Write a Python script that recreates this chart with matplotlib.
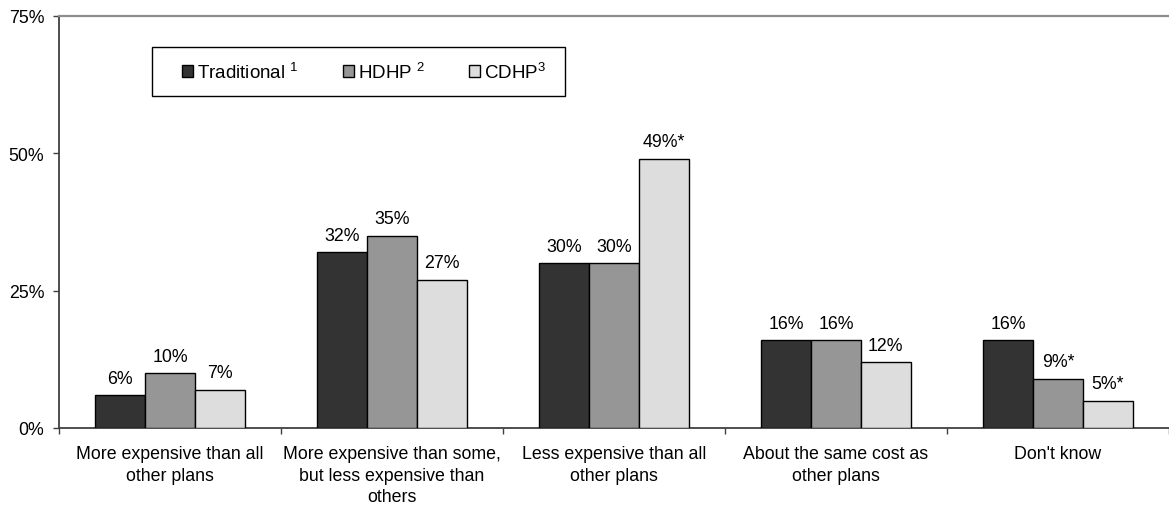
import numpy as np
import matplotlib
matplotlib.use("Agg")
import matplotlib.pyplot as plt
from matplotlib.patches import Rectangle
from matplotlib.ticker import FixedLocator

plt.rcParams["font.family"] = ["Liberation Sans", "DejaVu Sans"]
plt.rcParams["mathtext.fontset"] = "custom"
plt.rcParams["mathtext.rm"] = "Liberation Sans"
plt.rcParams["mathtext.it"] = "Liberation Sans:italic"
plt.rcParams["mathtext.bf"] = "Liberation Sans:bold"

categories = [
    "More expensive than all\nother plans",
    "More expensive than some,\nbut less expensive than\nothers",
    "Less expensive than all\nother plans",
    "About the same cost as\nother plans",
    "Don't know",
]
series_names = ["Traditional $^{1}$", "HDHP $^{2}$", "CDHP$^{3}$"]
traditional = [6, 32, 30, 16, 16]
hdhp = [10, 35, 30, 16, 9]
cdhp = [7, 27, 49, 12, 5]
traditional_sig = [False, False, False, False, False]
hdhp_sig = [False, False, False, False, True]
cdhp_sig = [False, False, True, False, True]
y_ticks = [0, 25, 50, 75]
y_tick_labels = ["0%", "25%", "50%", "75%"]

series = [traditional, hdhp, cdhp]
significance = [traditional_sig, hdhp_sig, cdhp_sig]
colors = ["#333333", "#969696", "#dddddd"]
fs = 12.8

W, H = 1169, 510
fig = plt.figure(figsize=(W / 100, H / 100), dpi=100)
ax_left, ax_bottom_px, ax_top_px = 59, 429, 17
ax = fig.add_axes([ax_left / W, 1 - ax_bottom_px / H, 1 - ax_left / W,
                   (ax_bottom_px - ax_top_px) / H])
ax_w, ax_h = W - ax_left, ax_bottom_px - ax_top_px


def px_to_axes(px, py):
    return (px - ax_left) / ax_w, (ax_bottom_px - py) / ax_h


x = np.arange(len(categories))
width = 0.224
offsets = [-width, 0, width]

handles = []
for vals, sig, off, col, name in zip(series, significance, offsets, colors, series_names):
    bars = ax.bar(x + off, vals, width, color=col, edgecolor="black", linewidth=1.0,
                  label=name, zorder=3)
    handles.append(bars)
    for xi, v, s in zip(x, vals, sig):
        ax.annotate(f"{v}%" + ("*" if s else ""), (xi + off, v),
                    xytext=(0, 6), textcoords="offset points",
                    ha="center", va="bottom", fontsize=fs, color="black")

ax.set_xlim(-0.5, len(categories) - 0.5)
ax.set_ylim(0, 75)
ax.set_yticks(y_ticks)
ax.set_yticklabels(y_tick_labels, fontsize=fs)
ax.tick_params(axis="y", length=4.5, width=1.0, color="#404040", pad=6)

ax.set_xticks(x)
ax.set_xticklabels(categories, fontsize=fs, linespacing=1.35)
ax.tick_params(axis="x", which="major", length=0, pad=12.5)
ax.xaxis.set_minor_locator(FixedLocator(np.arange(len(categories) + 1) - 0.5))
ax.tick_params(axis="x", which="minor", length=4, width=1.0, color="#404040", direction="out")

for side in ("left", "bottom"):
    ax.spines[side].set_color("#404040")
    ax.spines[side].set_linewidth(1.3)
ax.spines["top"].set_color("#8c8c8c")
ax.spines["top"].set_linewidth(1.6)
ax.spines["right"].set_visible(False)

# legend box
bx0, by0 = px_to_axes(152, 97)
bx1, by1 = px_to_axes(565, 48)
ax.add_patch(Rectangle((bx0, by0), bx1 - bx0, by1 - by0, transform=ax.transAxes,
                       facecolor="white", edgecolor="black", linewidth=1.0,
                       zorder=4, clip_on=False))
lx, ly = px_to_axes(182, 73)
leg = ax.legend(handles=handles, ncol=3, loc="center left",
                bbox_to_anchor=(lx, ly), prop={"size": 13.5}, frameon=False,
                handlelength=0.6, handleheight=0.6, handletextpad=0.2,
                columnspacing=2.35, borderpad=0, borderaxespad=0)
leg.set_zorder(5)

fig.savefig("out.png", dpi=100)
